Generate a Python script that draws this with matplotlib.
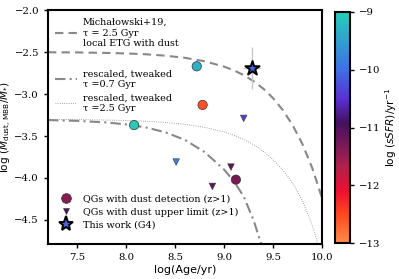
import numpy as np
import matplotlib
matplotlib.use("Agg")
import matplotlib.pyplot as plt
from matplotlib.colors import LinearSegmentedColormap, Normalize
from matplotlib.lines import Line2D

# ---- data ----
curve_x = [7.2, 7.5, 7.8, 8.0, 8.2, 8.4, 8.6, 8.8, 9.0, 9.1, 9.2, 9.3, 9.4, 9.5, 9.6, 9.7, 9.8, 9.9, 10.0]
mich_y = [-2.503, -2.505, -2.511, -2.517, -2.527, -2.544, -2.569, -2.610, -2.674, -2.719,
          -2.775, -2.847, -2.936, -3.049, -3.192, -3.371, -3.596, -3.880, -4.237]
tweak25_y = [-3.302, -3.305, -3.310, -3.315, -3.324, -3.338, -3.360, -3.396, -3.452, -3.491,
             -3.541, -3.603, -3.682, -3.781, -3.905, -4.062, -4.27, -4.56, -4.95]
tweak07_x = [7.2, 7.5, 7.8, 8.0, 8.2, 8.4, 8.6, 8.8, 9.0, 9.1, 9.2, 9.3, 9.4]
tweak07_y = [-3.310, -3.320, -3.339, -3.362, -3.398, -3.456, -3.547, -3.691, -3.90, -4.04,
             -4.22, -4.50, -4.86]

det_age = [8.08, 8.72, 8.78, 9.12]
det_mdust = [-3.37, -2.67, -3.13, -4.02]
det_ssfr = [-9.05, -9.3, -12.55, -11.3]

ul_age = [8.51, 9.07, 8.88, 9.20]
ul_mdust = [-3.81, -3.87, -4.10, -3.29]
ul_ssfr = [-9.8, -11.1, -11.1, -10.4]

g4_age = [9.285]
g4_mdust = [-2.69]
g4_age_err = [0.09]
g4_mdust_err = [0.25]
g4_ssfr = [-10.1]

cbar_ticks = [-13, -12, -11, -10, -9]

# ---- colormap ----
cmap = LinearSegmentedColormap.from_list("ssfr", [
    (0.00, "#ff8c4a"), (0.12, "#ff4a1e"), (0.22, "#ee0f30"),
    (0.33, "#b0214c"), (0.45, "#6a165a"), (0.52, "#45105e"),
    (0.62, "#5a2ed0"), (0.75, "#3f6fe6"), (0.88, "#2fa2cf"), (1.00, "#26cdb8")])
norm = Normalize(vmin=-13, vmax=-9)

serif = "DejaVu Serif"
fs_leg = 6.9
fig = plt.figure(figsize=(3.99, 2.79), dpi=100)
ax = fig.add_axes([0.1203, 0.1254, 0.6867, 0.8387])

ls_dash = (0, (4, 2.5))
ls_dd = (0, (5, 2, 1, 2))
ax.plot(curve_x, mich_y, ls=ls_dash, color="#888888", lw=1.5)
ax.plot(curve_x, tweak25_y, ls=":", color="#888888", lw=0.6)
ax.plot(tweak07_x, tweak07_y, ls=ls_dd, color="#888888", lw=1.5)

ax.errorbar(g4_age, g4_mdust, xerr=g4_age_err, yerr=g4_mdust_err, fmt="none",
            ecolor="#c8c8c8", elinewidth=1.0, zorder=3)
ax.scatter(det_age, det_mdust, c=det_ssfr, cmap=cmap, norm=norm, s=45, marker="o",
           edgecolors="#333333", linewidths=0.5, zorder=4)
ax.scatter(ul_age, ul_mdust, c=ul_ssfr, cmap=cmap, norm=norm, s=22, marker="v",
           edgecolors="#333333", linewidths=0.4, zorder=4)
sc = ax.scatter(g4_age, g4_mdust, c=g4_ssfr, cmap=cmap, norm=norm, s=115, marker="*",
                edgecolors="black", linewidths=1.4, zorder=5)

ax.set_xlim(7.2, 10.0)
ax.set_ylim(-4.786, -2.0)
ax.set_xticks([7.5, 8.0, 8.5, 9.0, 9.5, 10.0])
ax.set_yticks([-4.5, -4.0, -3.5, -3.0, -2.5, -2.0])
for sp in ax.spines.values():
    sp.set_linewidth(1.5)
ax.tick_params(direction="out", length=3, width=1, labelsize=7.3)
for lab in ax.get_xticklabels() + ax.get_yticklabels():
    lab.set_family(serif)
ax.set_xlabel("log(Age/yr)", fontsize=8.0, labelpad=2)
ax.set_ylabel(r"log $(M_{\mathrm{dust,\,MBB}}/M_{*})$", fontsize=7.6, labelpad=0)

# line legends, one entry each, placed where the reference shows them
h1 = [Line2D([], [], ls=ls_dash, color="#888888", lw=1.5),
      Line2D([], [], ls=ls_dd, color="#888888", lw=1.5),
      Line2D([], [], ls=":", color="#888888", lw=0.6)]
l1 = ["Michałowski+19,\nτ = 2.5 Gyr\nlocal ETG with dust",
      "rescaled, tweaked\nτ =0.7 Gyr",
      "rescaled, tweaked\nτ =2.5 Gyr"]
ycent = [0.9017, 0.705, 0.6026]
for h, l, yc in zip(h1, l1, ycent):
    lg = ax.legend([h], [l], loc="center left", bbox_to_anchor=(0.0255, yc), frameon=False,
                   prop={"family": serif, "size": fs_leg}, handlelength=2.3,
                   handletextpad=0.6, borderpad=0, borderaxespad=0)
    ax.add_artist(lg)

h2 = [Line2D([], [], marker="o", ls="none", markersize=7, markerfacecolor=cmap(norm(-11.4)),
             markeredgecolor="#333333", markeredgewidth=0.5),
      Line2D([], [], marker="v", ls="none", markersize=5, markerfacecolor=cmap(norm(-10.9)),
             markeredgecolor="#333333", markeredgewidth=0.4),
      Line2D([], [], marker="*", ls="none", markersize=11, markerfacecolor=cmap(norm(-10.1)),
             markeredgecolor="black", markeredgewidth=1.4)]
l2 = ["QGs with dust detection (z>1)", "QGs with dust upper limit (z>1)", "This work (G4)"]
ax.legend(h2, l2, loc="center left", bbox_to_anchor=(0.0255, 0.137), frameon=False,
          prop={"family": serif, "size": fs_leg}, labelspacing=0.45, handlelength=2.3,
          handletextpad=0.6, borderpad=0, borderaxespad=0)

cax = fig.add_axes([0.8396, 0.129, 0.0376, 0.828])
cb = fig.colorbar(sc, cax=cax, ticks=cbar_ticks)
cb.outline.set_linewidth(1.5)
cax.tick_params(direction="out", length=3, width=1, labelsize=7.3)
for lab in cax.get_yticklabels():
    lab.set_family(serif)
cb.set_label(r"log $(sSFR)/\mathrm{yr}^{-1}$", fontsize=7.6, labelpad=2)

fig.savefig("out.png", dpi=100)
